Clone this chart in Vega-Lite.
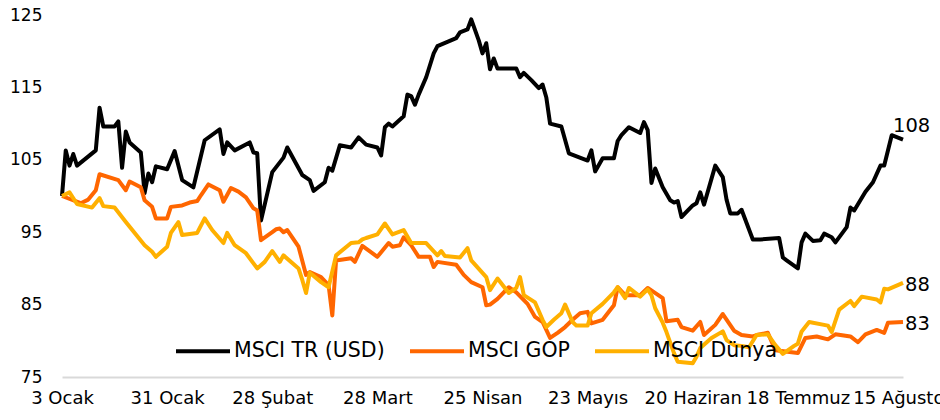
{
"$schema": "https://vega.github.io/schema/vega-lite/v6.json",
"width": 841, "height": 362,
"autosize": {"type": "none"},
"padding": {"left": 62, "top": 15, "right": 37, "bottom": 43},
"background": "white",
"config": {"view": {"stroke": null}, "font": "DejaVu Sans"},
"datasets": {
"lines": [
{"date":"2018-01-03","series":"MSCI TR (USD)","value":100},
{"date":"2018-01-04","series":"MSCI TR (USD)","value":106.3},
{"date":"2018-01-05","series":"MSCI TR (USD)","value":104.2},
{"date":"2018-01-06","series":"MSCI TR (USD)","value":105.8},
{"date":"2018-01-07","series":"MSCI TR (USD)","value":104.2},
{"date":"2018-01-12","series":"MSCI TR (USD)","value":106.3},
{"date":"2018-01-13","series":"MSCI TR (USD)","value":112.2},
{"date":"2018-01-14","series":"MSCI TR (USD)","value":109.6},
{"date":"2018-01-17","series":"MSCI TR (USD)","value":109.6},
{"date":"2018-01-18","series":"MSCI TR (USD)","value":110.3},
{"date":"2018-01-19","series":"MSCI TR (USD)","value":103.9},
{"date":"2018-01-20","series":"MSCI TR (USD)","value":108.9},
{"date":"2018-01-21","series":"MSCI TR (USD)","value":107.4},
{"date":"2018-01-24","series":"MSCI TR (USD)","value":106.0},
{"date":"2018-01-25","series":"MSCI TR (USD)","value":100.4},
{"date":"2018-01-26","series":"MSCI TR (USD)","value":103.1},
{"date":"2018-01-27","series":"MSCI TR (USD)","value":101.9},
{"date":"2018-01-28","series":"MSCI TR (USD)","value":104.1},
{"date":"2018-01-31","series":"MSCI TR (USD)","value":103.7},
{"date":"2018-02-02","series":"MSCI TR (USD)","value":106.2},
{"date":"2018-02-04","series":"MSCI TR (USD)","value":102.2},
{"date":"2018-02-07","series":"MSCI TR (USD)","value":101.2},
{"date":"2018-02-10","series":"MSCI TR (USD)","value":107.7},
{"date":"2018-02-14","series":"MSCI TR (USD)","value":109.2},
{"date":"2018-02-15","series":"MSCI TR (USD)","value":105.8},
{"date":"2018-02-16","series":"MSCI TR (USD)","value":107.4},
{"date":"2018-02-18","series":"MSCI TR (USD)","value":106.3},
{"date":"2018-02-22","series":"MSCI TR (USD)","value":107.4},
{"date":"2018-02-23","series":"MSCI TR (USD)","value":106.0},
{"date":"2018-02-24","series":"MSCI TR (USD)","value":105.9},
{"date":"2018-02-25","series":"MSCI TR (USD)","value":96.6},
{"date":"2018-02-28","series":"MSCI TR (USD)","value":103.3},
{"date":"2018-03-03","series":"MSCI TR (USD)","value":105.3},
{"date":"2018-03-04","series":"MSCI TR (USD)","value":106.7},
{"date":"2018-03-08","series":"MSCI TR (USD)","value":102.9},
{"date":"2018-03-10","series":"MSCI TR (USD)","value":102.2},
{"date":"2018-03-11","series":"MSCI TR (USD)","value":100.7},
{"date":"2018-03-14","series":"MSCI TR (USD)","value":101.9},
{"date":"2018-03-15","series":"MSCI TR (USD)","value":103.9},
{"date":"2018-03-16","series":"MSCI TR (USD)","value":103.5},
{"date":"2018-03-18","series":"MSCI TR (USD)","value":107.0},
{"date":"2018-03-21","series":"MSCI TR (USD)","value":106.7},
{"date":"2018-03-23","series":"MSCI TR (USD)","value":108.1},
{"date":"2018-03-25","series":"MSCI TR (USD)","value":107.1},
{"date":"2018-03-28","series":"MSCI TR (USD)","value":106.7},
{"date":"2018-03-29","series":"MSCI TR (USD)","value":105.6},
{"date":"2018-03-30","series":"MSCI TR (USD)","value":109.5},
{"date":"2018-03-31","series":"MSCI TR (USD)","value":110.0},
{"date":"2018-04-01","series":"MSCI TR (USD)","value":109.6},
{"date":"2018-04-04","series":"MSCI TR (USD)","value":111.0},
{"date":"2018-04-05","series":"MSCI TR (USD)","value":114.0},
{"date":"2018-04-06","series":"MSCI TR (USD)","value":113.8},
{"date":"2018-04-07","series":"MSCI TR (USD)","value":112.6},
{"date":"2018-04-08","series":"MSCI TR (USD)","value":114.0},
{"date":"2018-04-10","series":"MSCI TR (USD)","value":116.4},
{"date":"2018-04-12","series":"MSCI TR (USD)","value":119.7},
{"date":"2018-04-13","series":"MSCI TR (USD)","value":120.7},
{"date":"2018-04-18","series":"MSCI TR (USD)","value":121.8},
{"date":"2018-04-19","series":"MSCI TR (USD)","value":122.6},
{"date":"2018-04-21","series":"MSCI TR (USD)","value":123.0},
{"date":"2018-04-22","series":"MSCI TR (USD)","value":124.4},
{"date":"2018-04-24","series":"MSCI TR (USD)","value":121.5},
{"date":"2018-04-25","series":"MSCI TR (USD)","value":119.7},
{"date":"2018-04-26","series":"MSCI TR (USD)","value":121.1},
{"date":"2018-04-27","series":"MSCI TR (USD)","value":117.5},
{"date":"2018-04-28","series":"MSCI TR (USD)","value":119.0},
{"date":"2018-04-29","series":"MSCI TR (USD)","value":117.6},
{"date":"2018-05-04","series":"MSCI TR (USD)","value":117.6},
{"date":"2018-05-05","series":"MSCI TR (USD)","value":116.4},
{"date":"2018-05-06","series":"MSCI TR (USD)","value":117.0},
{"date":"2018-05-08","series":"MSCI TR (USD)","value":116.0},
{"date":"2018-05-10","series":"MSCI TR (USD)","value":114.9},
{"date":"2018-05-11","series":"MSCI TR (USD)","value":115.4},
{"date":"2018-05-12","series":"MSCI TR (USD)","value":113.6},
{"date":"2018-05-13","series":"MSCI TR (USD)","value":110.0},
{"date":"2018-05-16","series":"MSCI TR (USD)","value":109.6},
{"date":"2018-05-18","series":"MSCI TR (USD)","value":105.9},
{"date":"2018-05-23","series":"MSCI TR (USD)","value":104.9},
{"date":"2018-05-24","series":"MSCI TR (USD)","value":106.3},
{"date":"2018-05-25","series":"MSCI TR (USD)","value":103.4},
{"date":"2018-05-27","series":"MSCI TR (USD)","value":105.2},
{"date":"2018-05-30","series":"MSCI TR (USD)","value":105.2},
{"date":"2018-05-31","series":"MSCI TR (USD)","value":107.6},
{"date":"2018-06-01","series":"MSCI TR (USD)","value":108.4},
{"date":"2018-06-03","series":"MSCI TR (USD)","value":109.5},
{"date":"2018-06-06","series":"MSCI TR (USD)","value":108.7},
{"date":"2018-06-07","series":"MSCI TR (USD)","value":110.2},
{"date":"2018-06-08","series":"MSCI TR (USD)","value":109.1},
{"date":"2018-06-09","series":"MSCI TR (USD)","value":101.8},
{"date":"2018-06-10","series":"MSCI TR (USD)","value":103.8},
{"date":"2018-06-12","series":"MSCI TR (USD)","value":101.2},
{"date":"2018-06-14","series":"MSCI TR (USD)","value":99.4},
{"date":"2018-06-15","series":"MSCI TR (USD)","value":99.1},
{"date":"2018-06-16","series":"MSCI TR (USD)","value":99.3},
{"date":"2018-06-17","series":"MSCI TR (USD)","value":97.1},
{"date":"2018-06-20","series":"MSCI TR (USD)","value":98.7},
{"date":"2018-06-21","series":"MSCI TR (USD)","value":99.0},
{"date":"2018-06-22","series":"MSCI TR (USD)","value":100.5},
{"date":"2018-06-23","series":"MSCI TR (USD)","value":98.8},
{"date":"2018-06-26","series":"MSCI TR (USD)","value":104.2},
{"date":"2018-06-28","series":"MSCI TR (USD)","value":102.6},
{"date":"2018-06-29","series":"MSCI TR (USD)","value":99.5},
{"date":"2018-06-30","series":"MSCI TR (USD)","value":97.6},
{"date":"2018-07-02","series":"MSCI TR (USD)","value":97.6},
{"date":"2018-07-03","series":"MSCI TR (USD)","value":98.1},
{"date":"2018-07-06","series":"MSCI TR (USD)","value":94.0},
{"date":"2018-07-08","series":"MSCI TR (USD)","value":94.0},
{"date":"2018-07-13","series":"MSCI TR (USD)","value":94.2},
{"date":"2018-07-14","series":"MSCI TR (USD)","value":91.5},
{"date":"2018-07-15","series":"MSCI TR (USD)","value":91.1},
{"date":"2018-07-18","series":"MSCI TR (USD)","value":90.0},
{"date":"2018-07-19","series":"MSCI TR (USD)","value":93.6},
{"date":"2018-07-20","series":"MSCI TR (USD)","value":94.8},
{"date":"2018-07-22","series":"MSCI TR (USD)","value":93.8},
{"date":"2018-07-24","series":"MSCI TR (USD)","value":93.9},
{"date":"2018-07-25","series":"MSCI TR (USD)","value":94.8},
{"date":"2018-07-27","series":"MSCI TR (USD)","value":94.3},
{"date":"2018-07-28","series":"MSCI TR (USD)","value":93.6},
{"date":"2018-07-31","series":"MSCI TR (USD)","value":95.7},
{"date":"2018-08-01","series":"MSCI TR (USD)","value":98.4},
{"date":"2018-08-02","series":"MSCI TR (USD)","value":98.0},
{"date":"2018-08-05","series":"MSCI TR (USD)","value":100.6},
{"date":"2018-08-07","series":"MSCI TR (USD)","value":101.9},
{"date":"2018-08-09","series":"MSCI TR (USD)","value":104.2},
{"date":"2018-08-10","series":"MSCI TR (USD)","value":104.2},
{"date":"2018-08-12","series":"MSCI TR (USD)","value":108.4},
{"date":"2018-08-15","series":"MSCI TR (USD)","value":107.8},
{"date":"2018-01-03","series":"MSCI GOP","value":100},
{"date":"2018-01-08","series":"MSCI GOP","value":99.0},
{"date":"2018-01-10","series":"MSCI GOP","value":99.5},
{"date":"2018-01-12","series":"MSCI GOP","value":100.8},
{"date":"2018-01-13","series":"MSCI GOP","value":103.0},
{"date":"2018-01-18","series":"MSCI GOP","value":102.2},
{"date":"2018-01-20","series":"MSCI GOP","value":100.8},
{"date":"2018-01-21","series":"MSCI GOP","value":102.0},
{"date":"2018-01-24","series":"MSCI GOP","value":101.2},
{"date":"2018-01-25","series":"MSCI GOP","value":99.4},
{"date":"2018-01-27","series":"MSCI GOP","value":98.5},
{"date":"2018-01-28","series":"MSCI GOP","value":96.9},
{"date":"2018-01-31","series":"MSCI GOP","value":96.9},
{"date":"2018-02-01","series":"MSCI GOP","value":98.5},
{"date":"2018-02-04","series":"MSCI GOP","value":98.7},
{"date":"2018-02-06","series":"MSCI GOP","value":99.1},
{"date":"2018-02-08","series":"MSCI GOP","value":99.3},
{"date":"2018-02-09","series":"MSCI GOP","value":100.1},
{"date":"2018-02-11","series":"MSCI GOP","value":101.6},
{"date":"2018-02-14","series":"MSCI GOP","value":100.8},
{"date":"2018-02-15","series":"MSCI GOP","value":99.2},
{"date":"2018-02-17","series":"MSCI GOP","value":101.1},
{"date":"2018-02-19","series":"MSCI GOP","value":100.6},
{"date":"2018-02-21","series":"MSCI GOP","value":99.8},
{"date":"2018-02-23","series":"MSCI GOP","value":98.3},
{"date":"2018-02-24","series":"MSCI GOP","value":98.0},
{"date":"2018-02-25","series":"MSCI GOP","value":93.9},
{"date":"2018-02-28","series":"MSCI GOP","value":95.0},
{"date":"2018-03-01","series":"MSCI GOP","value":95.4},
{"date":"2018-03-02","series":"MSCI GOP","value":95.5},
{"date":"2018-03-03","series":"MSCI GOP","value":95.0},
{"date":"2018-03-04","series":"MSCI GOP","value":95.3},
{"date":"2018-03-07","series":"MSCI GOP","value":93.0},
{"date":"2018-03-09","series":"MSCI GOP","value":89.1},
{"date":"2018-03-10","series":"MSCI GOP","value":89.5},
{"date":"2018-03-13","series":"MSCI GOP","value":88.8},
{"date":"2018-03-15","series":"MSCI GOP","value":87.7},
{"date":"2018-03-16","series":"MSCI GOP","value":83.5},
{"date":"2018-03-17","series":"MSCI GOP","value":91.1},
{"date":"2018-03-21","series":"MSCI GOP","value":91.4},
{"date":"2018-03-22","series":"MSCI GOP","value":90.9},
{"date":"2018-03-24","series":"MSCI GOP","value":93.1},
{"date":"2018-03-28","series":"MSCI GOP","value":91.6},
{"date":"2018-03-31","series":"MSCI GOP","value":93.5},
{"date":"2018-04-01","series":"MSCI GOP","value":93.0},
{"date":"2018-04-03","series":"MSCI GOP","value":93.2},
{"date":"2018-04-04","series":"MSCI GOP","value":94.3},
{"date":"2018-04-06","series":"MSCI GOP","value":93.2},
{"date":"2018-04-08","series":"MSCI GOP","value":91.6},
{"date":"2018-04-11","series":"MSCI GOP","value":91.6},
{"date":"2018-04-12","series":"MSCI GOP","value":90.2},
{"date":"2018-04-13","series":"MSCI GOP","value":90.9},
{"date":"2018-04-18","series":"MSCI GOP","value":90.5},
{"date":"2018-04-20","series":"MSCI GOP","value":89.1},
{"date":"2018-04-22","series":"MSCI GOP","value":88.1},
{"date":"2018-04-25","series":"MSCI GOP","value":87.4},
{"date":"2018-04-26","series":"MSCI GOP","value":84.9},
{"date":"2018-04-27","series":"MSCI GOP","value":85.0},
{"date":"2018-04-29","series":"MSCI GOP","value":85.8},
{"date":"2018-05-02","series":"MSCI GOP","value":87.4},
{"date":"2018-05-04","series":"MSCI GOP","value":86.7},
{"date":"2018-05-07","series":"MSCI GOP","value":85.1},
{"date":"2018-05-09","series":"MSCI GOP","value":83.3},
{"date":"2018-05-11","series":"MSCI GOP","value":82.6},
{"date":"2018-05-13","series":"MSCI GOP","value":80.4},
{"date":"2018-05-15","series":"MSCI GOP","value":81.1},
{"date":"2018-05-17","series":"MSCI GOP","value":81.9},
{"date":"2018-05-19","series":"MSCI GOP","value":82.9},
{"date":"2018-05-21","series":"MSCI GOP","value":83.8},
{"date":"2018-05-23","series":"MSCI GOP","value":84.0},
{"date":"2018-05-24","series":"MSCI GOP","value":82.4},
{"date":"2018-05-27","series":"MSCI GOP","value":82.9},
{"date":"2018-05-30","series":"MSCI GOP","value":84.9},
{"date":"2018-05-31","series":"MSCI GOP","value":87.4},
{"date":"2018-06-02","series":"MSCI GOP","value":86.3},
{"date":"2018-06-06","series":"MSCI GOP","value":86.3},
{"date":"2018-06-08","series":"MSCI GOP","value":87.3},
{"date":"2018-06-12","series":"MSCI GOP","value":85.9},
{"date":"2018-06-13","series":"MSCI GOP","value":82.7},
{"date":"2018-06-16","series":"MSCI GOP","value":82.9},
{"date":"2018-06-17","series":"MSCI GOP","value":81.9},
{"date":"2018-06-20","series":"MSCI GOP","value":81.4},
{"date":"2018-06-22","series":"MSCI GOP","value":82.6},
{"date":"2018-06-23","series":"MSCI GOP","value":80.8},
{"date":"2018-06-26","series":"MSCI GOP","value":82.2},
{"date":"2018-06-28","series":"MSCI GOP","value":83.7},
{"date":"2018-07-01","series":"MSCI GOP","value":81.4},
{"date":"2018-07-03","series":"MSCI GOP","value":80.8},
{"date":"2018-07-06","series":"MSCI GOP","value":80.6},
{"date":"2018-07-07","series":"MSCI GOP","value":80.8},
{"date":"2018-07-10","series":"MSCI GOP","value":81.1},
{"date":"2018-07-12","series":"MSCI GOP","value":78.7},
{"date":"2018-07-18","series":"MSCI GOP","value":78.3},
{"date":"2018-07-20","series":"MSCI GOP","value":80.4},
{"date":"2018-07-23","series":"MSCI GOP","value":80.6},
{"date":"2018-07-26","series":"MSCI GOP","value":80.2},
{"date":"2018-07-28","series":"MSCI GOP","value":80.9},
{"date":"2018-08-01","series":"MSCI GOP","value":80.6},
{"date":"2018-08-03","series":"MSCI GOP","value":79.8},
{"date":"2018-08-05","series":"MSCI GOP","value":80.9},
{"date":"2018-08-08","series":"MSCI GOP","value":81.5},
{"date":"2018-08-10","series":"MSCI GOP","value":81.1},
{"date":"2018-08-11","series":"MSCI GOP","value":82.5},
{"date":"2018-08-15","series":"MSCI GOP","value":82.6},
{"date":"2018-01-03","series":"MSCI Dünya","value":100},
{"date":"2018-01-05","series":"MSCI Dünya","value":100.5},
{"date":"2018-01-07","series":"MSCI Dünya","value":98.9},
{"date":"2018-01-11","series":"MSCI Dünya","value":98.4},
{"date":"2018-01-13","series":"MSCI Dünya","value":99.7},
{"date":"2018-01-14","series":"MSCI Dünya","value":98.6},
{"date":"2018-01-17","series":"MSCI Dünya","value":98.4},
{"date":"2018-01-20","series":"MSCI Dünya","value":96.4},
{"date":"2018-01-25","series":"MSCI Dünya","value":93.2},
{"date":"2018-01-27","series":"MSCI Dünya","value":92.3},
{"date":"2018-01-28","series":"MSCI Dünya","value":91.6},
{"date":"2018-01-31","series":"MSCI Dünya","value":93.0},
{"date":"2018-02-01","series":"MSCI Dünya","value":94.9},
{"date":"2018-02-03","series":"MSCI Dünya","value":96.4},
{"date":"2018-02-04","series":"MSCI Dünya","value":94.6},
{"date":"2018-02-08","series":"MSCI Dünya","value":94.9},
{"date":"2018-02-10","series":"MSCI Dünya","value":96.9},
{"date":"2018-02-12","series":"MSCI Dünya","value":95.3},
{"date":"2018-02-15","series":"MSCI Dünya","value":93.5},
{"date":"2018-02-16","series":"MSCI Dünya","value":94.9},
{"date":"2018-02-18","series":"MSCI Dünya","value":93.2},
{"date":"2018-02-21","series":"MSCI Dünya","value":92.1},
{"date":"2018-02-24","series":"MSCI Dünya","value":90.0},
{"date":"2018-02-26","series":"MSCI Dünya","value":90.9},
{"date":"2018-02-28","series":"MSCI Dünya","value":92.4},
{"date":"2018-03-02","series":"MSCI Dünya","value":90.9},
{"date":"2018-03-03","series":"MSCI Dünya","value":91.8},
{"date":"2018-03-07","series":"MSCI Dünya","value":90.0},
{"date":"2018-03-08","series":"MSCI Dünya","value":88.4},
{"date":"2018-03-09","series":"MSCI Dünya","value":86.6},
{"date":"2018-03-10","series":"MSCI Dünya","value":89.4},
{"date":"2018-03-13","series":"MSCI Dünya","value":88.1},
{"date":"2018-03-15","series":"MSCI Dünya","value":87.4},
{"date":"2018-03-17","series":"MSCI Dünya","value":91.8},
{"date":"2018-03-21","series":"MSCI Dünya","value":93.5},
{"date":"2018-03-23","series":"MSCI Dünya","value":93.6},
{"date":"2018-03-24","series":"MSCI Dünya","value":94.0},
{"date":"2018-03-25","series":"MSCI Dünya","value":94.2},
{"date":"2018-03-28","series":"MSCI Dünya","value":94.7},
{"date":"2018-03-30","series":"MSCI Dünya","value":96.2},
{"date":"2018-04-01","series":"MSCI Dünya","value":94.7},
{"date":"2018-04-04","series":"MSCI Dünya","value":95.3},
{"date":"2018-04-06","series":"MSCI Dünya","value":93.5},
{"date":"2018-04-10","series":"MSCI Dünya","value":93.5},
{"date":"2018-04-13","series":"MSCI Dünya","value":91.8},
{"date":"2018-04-14","series":"MSCI Dünya","value":92.4},
{"date":"2018-04-15","series":"MSCI Dünya","value":91.7},
{"date":"2018-04-19","series":"MSCI Dünya","value":91.5},
{"date":"2018-04-21","series":"MSCI Dünya","value":92.8},
{"date":"2018-04-22","series":"MSCI Dünya","value":91.1},
{"date":"2018-04-26","series":"MSCI Dünya","value":88.8},
{"date":"2018-04-27","series":"MSCI Dünya","value":87.0},
{"date":"2018-04-29","series":"MSCI Dünya","value":88.6},
{"date":"2018-05-02","series":"MSCI Dünya","value":86.6},
{"date":"2018-05-04","series":"MSCI Dünya","value":87.3},
{"date":"2018-05-05","series":"MSCI Dünya","value":88.8},
{"date":"2018-05-06","series":"MSCI Dünya","value":86.3},
{"date":"2018-05-09","series":"MSCI Dünya","value":85.3},
{"date":"2018-05-11","series":"MSCI Dünya","value":82.9},
{"date":"2018-05-12","series":"MSCI Dünya","value":81.9},
{"date":"2018-05-14","series":"MSCI Dünya","value":82.9},
{"date":"2018-05-16","series":"MSCI Dünya","value":83.8},
{"date":"2018-05-17","series":"MSCI Dünya","value":85.0},
{"date":"2018-05-19","series":"MSCI Dünya","value":82.6},
{"date":"2018-05-20","series":"MSCI Dünya","value":82.1},
{"date":"2018-05-23","series":"MSCI Dünya","value":82.1},
{"date":"2018-05-24","series":"MSCI Dünya","value":83.8},
{"date":"2018-05-27","series":"MSCI Dünya","value":85.1},
{"date":"2018-05-30","series":"MSCI Dünya","value":86.7},
{"date":"2018-05-31","series":"MSCI Dünya","value":87.4},
{"date":"2018-06-02","series":"MSCI Dünya","value":85.9},
{"date":"2018-06-03","series":"MSCI Dünya","value":87.3},
{"date":"2018-06-06","series":"MSCI Dünya","value":86.1},
{"date":"2018-06-08","series":"MSCI Dünya","value":87.1},
{"date":"2018-06-09","series":"MSCI Dünya","value":86.3},
{"date":"2018-06-10","series":"MSCI Dünya","value":84.5},
{"date":"2018-06-12","series":"MSCI Dünya","value":82.5},
{"date":"2018-06-13","series":"MSCI Dünya","value":81.2},
{"date":"2018-06-15","series":"MSCI Dünya","value":78.3},
{"date":"2018-06-16","series":"MSCI Dünya","value":77.1},
{"date":"2018-06-20","series":"MSCI Dünya","value":76.9},
{"date":"2018-06-21","series":"MSCI Dünya","value":77.8},
{"date":"2018-06-22","series":"MSCI Dünya","value":79.0},
{"date":"2018-06-25","series":"MSCI Dünya","value":80.4},
{"date":"2018-06-28","series":"MSCI Dünya","value":81.3},
{"date":"2018-06-29","series":"MSCI Dünya","value":80.1},
{"date":"2018-07-01","series":"MSCI Dünya","value":79.4},
{"date":"2018-07-03","series":"MSCI Dünya","value":79.3},
{"date":"2018-07-05","series":"MSCI Dünya","value":79.1},
{"date":"2018-07-07","series":"MSCI Dünya","value":80.8},
{"date":"2018-07-10","series":"MSCI Dünya","value":80.9},
{"date":"2018-07-12","series":"MSCI Dünya","value":79.4},
{"date":"2018-07-14","series":"MSCI Dünya","value":78.2},
{"date":"2018-07-17","series":"MSCI Dünya","value":79.3},
{"date":"2018-07-18","series":"MSCI Dünya","value":79.6},
{"date":"2018-07-19","series":"MSCI Dünya","value":81.3},
{"date":"2018-07-21","series":"MSCI Dünya","value":82.6},
{"date":"2018-07-26","series":"MSCI Dünya","value":82.1},
{"date":"2018-07-27","series":"MSCI Dünya","value":81.2},
{"date":"2018-07-29","series":"MSCI Dünya","value":84.3},
{"date":"2018-08-01","series":"MSCI Dünya","value":85.5},
{"date":"2018-08-02","series":"MSCI Dünya","value":84.8},
{"date":"2018-08-04","series":"MSCI Dünya","value":86.1},
{"date":"2018-08-08","series":"MSCI Dünya","value":85.7},
{"date":"2018-08-09","series":"MSCI Dünya","value":85.3},
{"date":"2018-08-10","series":"MSCI Dünya","value":87.2},
{"date":"2018-08-11","series":"MSCI Dünya","value":87.1},
{"date":"2018-08-15","series":"MSCI Dünya","value":88.0}
],
"ends": [
{"date":"2018-08-15","series":"MSCI TR (USD)","value":107.8,"label":"108"},
{"date":"2018-08-15","series":"MSCI GOP","value":82.6,"label":"83"},
{"date":"2018-08-15","series":"MSCI Dünya","value":88.0,"label":"88"}
]
},
"layer": [
{
"data": {"name": "lines"},
"mark": {"type": "line", "strokeJoin": "round"},
"encoding": {
"x": {"field": "date", "type": "temporal",
 "scale": {"type": "utc", "domain": [{"year": 2018, "month": 1, "date": 3, "utc": true}, {"year": 2018, "month": 8, "date": 15, "utc": true}]},
 "axis": {"title": null, "ticks": false, "grid": false, "domainColor": "#D9D9D9", "domainWidth": 2,
  "values": [{"year":2018,"month":1,"date":3,"utc":true},{"year":2018,"month":1,"date":31,"utc":true},{"year":2018,"month":2,"date":28,"utc":true},{"year":2018,"month":3,"date":28,"utc":true},{"year":2018,"month":4,"date":25,"utc":true},{"year":2018,"month":5,"date":23,"utc":true},{"year":2018,"month":6,"date":20,"utc":true},{"year":2018,"month":7,"date":18,"utc":true},{"year":2018,"month":8,"date":15,"utc":true}],
  "labelExpr": "utcdate(datum.value) + ' ' + ['Ocak','Şubat','Mart','Nisan','Mayıs','Haziran','Temmuz','Ağustos'][utcmonth(datum.value)]",
  "labelFontSize": 18, "labelColor": "#000000", "labelPadding": 12, "labelOverlap": false, "labelFlush": false, "labelBound": false}},
"y": {"field": "value", "type": "quantitative",
 "scale": {"domain": [75, 125], "nice": false, "zero": false},
 "axis": {"title": null, "values": [75, 85, 95, 105, 115, 125], "ticks": false, "domain": false, "grid": false, "labelFontSize": 17, "labelColor": "#000000", "labelPadding": 20}},
"color": {"field": "series", "type": "nominal",
 "scale": {"domain": ["MSCI TR (USD)", "MSCI GOP", "MSCI Dünya"], "range": ["#000000", "#FF6600", "#FFB000"]},
 "legend": {"title": null, "orient": "none", "legendX": 112, "legendY": 307, "direction": "horizontal", "symbolType": "stroke", "symbolSize": 2916, "symbolStrokeWidth": 5, "labelFontSize": 20.5, "labelColor": "#000000", "labelOffset": 2, "columnPadding": 17, "padding": 0, "labelLimit": 300}},
"strokeWidth": {"field": "series", "type": "nominal",
 "scale": {"domain": ["MSCI TR (USD)", "MSCI GOP", "MSCI Dünya"], "range": [4, 4, 5]}, "legend": null}
}
},
{
"data": {"name": "ends"},
"transform": [{"filter": "datum.series == 'MSCI TR (USD)'"}],
"mark": {"type": "text", "align": "left", "baseline": "middle", "dx": -10, "dy": -14, "fontSize": 19.5, "color": "#000000"},
"encoding": {
"x": {"field": "date", "type": "temporal"},
"y": {"field": "value", "type": "quantitative"},
"text": {"field": "label"}
}
},
{
"data": {"name": "ends"},
"transform": [{"filter": "datum.series != 'MSCI TR (USD)'"}],
"mark": {"type": "text", "align": "left", "baseline": "middle", "dx": 2, "dy": 2, "fontSize": 19.5, "color": "#000000"},
"encoding": {
"x": {"field": "date", "type": "temporal"},
"y": {"field": "value", "type": "quantitative"},
"text": {"field": "label"}
}
}
]
}
